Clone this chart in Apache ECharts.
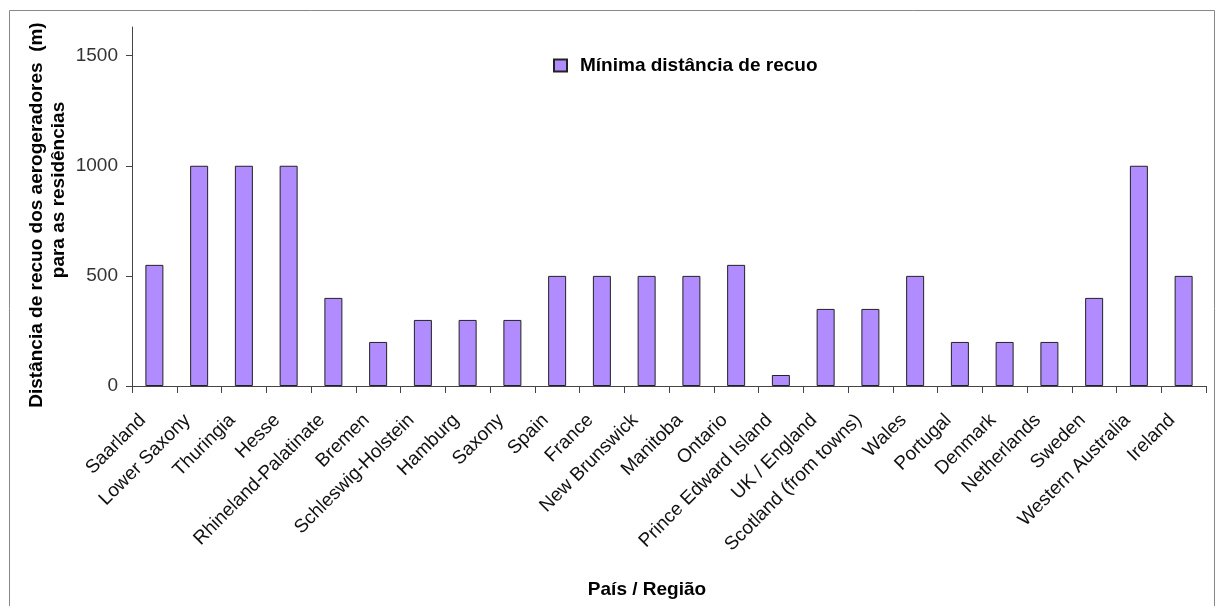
<!DOCTYPE html>
<html>
<head>
<meta charset="utf-8">
<script src="https://cdn.jsdelivr.net/npm/echarts@6/dist/echarts.min.js"></script>
<style>
  html, body { margin: 0; padding: 0; background: #fff; }
  #chart { width: 1217px; height: 606px; }
</style>
</head>
<body>
<div id="chart"></div>
<script>
// Minimum setback distance of wind turbines from dwellings, by country / region
const categories = [
  'Saarland', 'Lower Saxony', 'Thuringia', 'Hesse', 'Rhineland-Palatinate',
  'Bremen', 'Schleswig-Holstein', 'Hamburg', 'Saxony', 'Spain', 'France',
  'New Brunswick', 'Manitoba', 'Ontario', 'Prince Edward Island',
  'UK / England', 'Scotland (from towns)', 'Wales', 'Portugal', 'Denmark',
  'Netherlands', 'Sweden', 'Western Australia', 'Ireland'
];
const setbackValues = [
  550, 1000, 1000, 1000, 400,
  200, 300, 300, 300, 500, 500,
  500, 500, 550, 50,
  350, 350, 500, 200, 200,
  200, 400, 1000, 500
];
const yTickValues = [0, 500, 1000, 1500];
const seriesName = 'Mínima distância de recuo';
const xAxisTitle = 'País / Região';
const yAxisTitleLines = ['Distância de recuo dos aerogeradores  (m)', 'para as residências'];

const FONT = '"Liberation Sans", Arial, sans-serif';
const chart = echarts.init(document.getElementById('chart'), null, { renderer: 'canvas' });

const titleStyle = { fontFamily: FONT, fontSize: 19, fontWeight: 'bold', fill: '#000' };

chart.setOption({
  animation: false,
  backgroundColor: '#fff',
  textStyle: { fontFamily: FONT },
  grid: { left: 132, right: 11, top: 27, bottom: 220, containLabel: false },
  legend: {
    data: [seriesName],
    left: 553, top: 56, padding: 0,
    icon: 'rect', itemWidth: 13, itemHeight: 12, itemGap: 8,
    textStyle: { fontFamily: FONT, fontSize: 19, fontWeight: 'bold', color: '#000', padding: [0, 0, 0, 8] }
  },
  xAxis: {
    type: 'category',
    data: categories,
    boundaryGap: true,
    axisLine: { lineStyle: { color: '#444', width: 1 } },
    axisTick: { show: true, alignWithLabel: false, length: 7, lineStyle: { color: '#444' } },
    axisLabel: {
      interval: 0, rotate: 45, margin: 33,
      verticalAlign: 'bottom',
      padding: [0, 7, 0, 0],
      fontFamily: FONT, fontSize: 19, color: '#111'
    },
    splitLine: { show: false }
  },
  yAxis: {
    type: 'value',
    min: 0, max: 1630,
    axisLine: { show: true, lineStyle: { color: '#444', width: 1 } },
    axisTick: { show: true, length: 6, lineStyle: { color: '#444' }, customValues: yTickValues },
    axisLabel: {
      fontFamily: FONT, fontSize: 19, color: '#333', margin: 14,
      customValues: yTickValues,
      formatter: (v) => String(v)
    },
    splitLine: { show: false }
  },
  graphic: [
    {
      type: 'rect', left: 7, top: 8, z: -1,
      shape: { width: 1205, height: 596 },
      style: { fill: 'none', stroke: '#888', lineWidth: 1 }
    },
    {
      type: 'text', x: 37, y: 215, rotation: Math.PI / 2,
      style: Object.assign({ text: yAxisTitleLines[0], align: 'center', verticalAlign: 'middle' }, titleStyle)
    },
    {
      type: 'text', x: 59, y: 190, rotation: Math.PI / 2,
      style: Object.assign({ text: yAxisTitleLines[1], align: 'center', verticalAlign: 'middle' }, titleStyle)
    },
    {
      type: 'text', x: 647, y: 590,
      style: Object.assign({ text: xAxisTitle, align: 'center', verticalAlign: 'middle' }, titleStyle)
    }
  ],
  series: [{
    name: seriesName,
    type: 'bar',
    data: setbackValues,
    barWidth: 18,
    itemStyle: { color: '#b08cff', borderColor: '#222', borderWidth: 1 }
  }]
});
</script>
</body>
</html>
